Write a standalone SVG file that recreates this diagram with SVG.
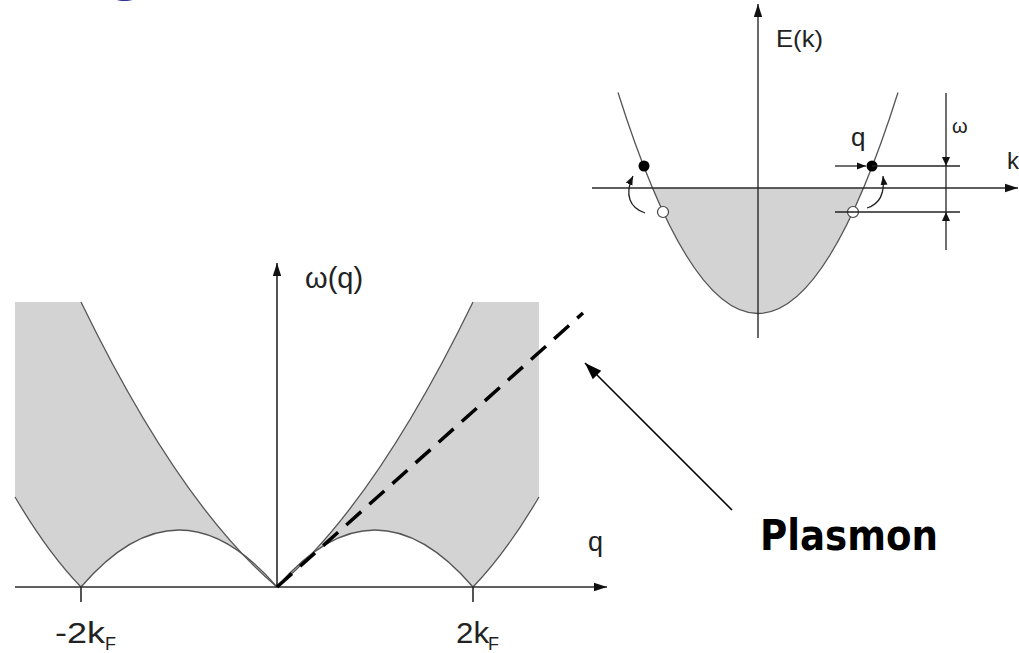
<svg xmlns="http://www.w3.org/2000/svg" width="1019" height="653" viewBox="0 0 1019 653">
  <style>
    .axis { stroke: #2a2a2a; stroke-width: 1.6; fill: none; }
    .curve { stroke: #555; stroke-width: 1.3; fill: none; }
    .shade { fill: #d3d3d3; stroke: none; }
    .lbl { font-family: "Liberation Sans", Arial, sans-serif; fill: #222; }
    .thin { stroke: #222; stroke-width: 1.3; fill: none; }
  </style>
  <defs>
    <marker id="ah" markerUnits="userSpaceOnUse" markerWidth="14" markerHeight="10" refX="13" refY="5" orient="auto">
      <path d="M0,0.8 L13,5 L0,9.2 Z" fill="#111"/>
    </marker>
    <marker id="ahs" markerUnits="userSpaceOnUse" markerWidth="10" markerHeight="8" refX="9" refY="4" orient="auto">
      <path d="M0,0.5 L9,4 L0,7.5 Z" fill="#111"/>
    </marker>
    <marker id="ahp" markerUnits="userSpaceOnUse" markerWidth="18" markerHeight="14" refX="17" refY="7" orient="auto">
      <path d="M0,1 L17,7 L0,13 Z" fill="#000"/>
    </marker>
  </defs>
  <rect width="1019" height="653" fill="#fff"/>

  <!-- clipped title glyph -->
  <text x="110" y="-9" font-family="DejaVu Sans, sans-serif" font-weight="bold" font-size="48" fill="#333399">g</text>

  <g id="main-plot">
    <path class="shade" d="M277,587 Q375,504 473,302 L539,302 L539,497 Q506,553 473,587 Q375,473 277,587 Z"/>
    <path class="shade" d="M277,587 Q179,504 81,302 L15,302 L15,497 Q48,553 81,587 Q179,473 277,587 Z"/>
    <path class="curve" d="M277,587 Q375,504 473,302"/>
    <path class="curve" d="M277,587 Q375,473 473,587"/>
    <path class="curve" d="M473,587 Q506,553 539,497"/>
    <path class="curve" d="M277,587 Q179,504 81,302"/>
    <path class="curve" d="M277,587 Q179,473 81,587"/>
    <path class="curve" d="M81,587 Q48,553 15,497"/>
    <line class="axis" x1="15" y1="587" x2="607" y2="587" marker-end="url(#ah)"/>
    <line class="axis" x1="277" y1="587" x2="277" y2="263" marker-end="url(#ah)"/>
    <line class="axis" x1="81" y1="587" x2="81" y2="602"/>
    <line class="axis" x1="473" y1="587" x2="473" y2="602"/>
    <line x1="277" y1="587" x2="583" y2="313" stroke="#000" stroke-width="3.5" stroke-dasharray="20 11"/>
    <text class="lbl" x="305" y="288" font-size="29">ω(q)</text>
    <text class="lbl" x="588" y="551" font-size="27">q</text>
    <text class="lbl" x="55" y="643" font-size="30" textLength="50" lengthAdjust="spacingAndGlyphs">-2k</text>
    <text class="lbl" x="105" y="650" font-size="18">F</text>
    <text class="lbl" x="456" y="643" font-size="30" textLength="33" lengthAdjust="spacingAndGlyphs">2k</text>
    <text class="lbl" x="488" y="650" font-size="18">F</text>
  </g>

  <g id="inset">
    <path class="shade" d="M652.6,188 Q758,439 863.4,188 Z"/>
    <path class="curve" d="M618,92.5 Q758,534.5 898,92.5"/>
    <line class="axis" x1="758" y1="338" x2="758" y2="4" marker-end="url(#ah)" style="stroke-width:1.4"/>
    <line class="axis" x1="592" y1="188" x2="1018" y2="188" marker-end="url(#ah)" style="stroke-width:1.4"/>
    <circle cx="644" cy="166" r="5.5" fill="#000"/>
    <circle cx="872" cy="166" r="5.5" fill="#000"/>
    <circle cx="663" cy="212" r="5.5" fill="#fff" stroke="#444" stroke-width="1.2"/>
    <circle cx="853" cy="212" r="5.5" fill="#fff" stroke="#444" stroke-width="1.2"/>
    <path class="thin" d="M645,213 C630,208 624,195 633,176" marker-end="url(#ahs)"/>
    <path class="thin" d="M867,208 C880,204 885,193 883,176" marker-end="url(#ahs)"/>
    <line class="thin" x1="835" y1="166" x2="866" y2="166" marker-end="url(#ahs)"/>
    <line class="thin" x1="872" y1="166" x2="960" y2="166"/>
    <line class="thin" x1="835" y1="212" x2="960" y2="212"/>
    <line class="thin" x1="946" y1="93" x2="946" y2="250"/>
    <path d="M942,157 L946,166 L950,157 Z" fill="#111"/>
    <path d="M942,221 L946,212 L950,221 Z" fill="#111"/>
    <text class="lbl" x="776" y="47" font-size="24" textLength="47" lengthAdjust="spacingAndGlyphs">E(k)</text>
    <text class="lbl" x="851" y="146" font-size="26">q</text>
    <text class="lbl" x="952" y="133" font-size="20">ω</text>
    <text class="lbl" x="1007" y="169" font-size="24">k</text>
  </g>

  <g id="connectors">
    <line x1="732" y1="510" x2="585" y2="363" stroke="#000" stroke-width="1.6" marker-end="url(#ahp)"/>
  </g>

  <g id="plasmon-label">
    <text x="760" y="550" font-family="DejaVu Sans, sans-serif" font-weight="bold" font-size="43" textLength="178" lengthAdjust="spacingAndGlyphs" fill="#000">Plasmon</text>
  </g>
</svg>
